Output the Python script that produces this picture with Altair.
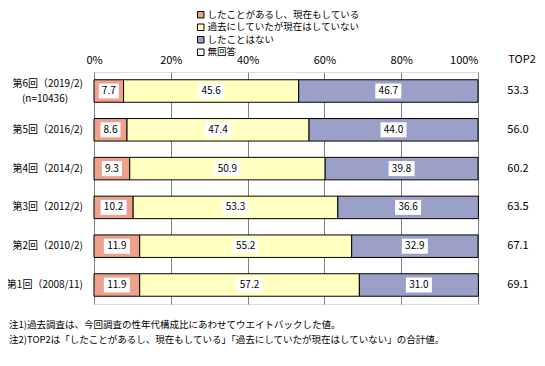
import altair as alt
import pandas as pd

rounds = ["第6回（2019/2)", "第5回（2016/2)", "第4回（2014/2)", "第3回（2012/2)", "第2回（2010/2)", "第1回（2008/11)"]
sample_note = "(n=10436)"
categories = ["したことがあるし、現在もしている", "過去にしていたが現在はしていない", "したことはない", "無回答"]
colors = ["#EDA18B", "#FFFFC0", "#9AA0C7", "#FFFFFF"]
doing_now = [7.7, 8.6, 9.3, 10.2, 11.9, 11.9]
past = [45.6, 47.4, 50.9, 53.3, 55.2, 57.2]
never = [46.7, 44.0, 39.8, 36.6, 32.9, 31.0]
top2 = [53.3, 56.0, 60.2, 63.5, 67.1, 69.1]
notes = [
    "注1)過去調査は、今回調査の性年代構成比にあわせてウエイトバックした値。",
    "注2)TOP2は「したことがあるし、現在もしている」「過去にしていたが現在はしていない」の合計値。",
]

FONT = "Noto Sans CJK JP"

rows = []
for i, r in enumerate(rounds):
    for ci, vals in enumerate([doing_now, past, never]):
        rows.append({"round": r, "cat": categories[ci], "ci": ci, "value": vals[i]})
df = pd.DataFrame(rows)
lab_df = pd.DataFrame({"round": rounds, "top2": top2})

y_enc = alt.Y("round:N", sort=rounds, axis=None,
              scale=alt.Scale(paddingInner=0.42, paddingOuter=0.2))

base = alt.Chart(df).transform_stack(
    stack="value", groupby=["round"], as_=["x0", "x1"], sort=[alt.SortField("ci")]
).transform_calculate(
    mid="(datum.x0 + datum.x1) / 2",
    label="format(datum.value, '.1f')",
).transform_calculate(
    bx0="datum.mid - (length(datum.label) * 6 + 2) / 2 / 3.84",
    bx1="datum.mid + (length(datum.label) * 6 + 2) / 2 / 3.84",
)

x_enc = alt.X("x0:Q", scale=alt.Scale(domain=[0, 100], nice=False),
              axis=alt.Axis(orient="top", values=[0, 20, 40, 60, 80, 100],
                            labelExpr="datum.value + '%'", title=None, ticks=False,
                            domain=False, grid=True, gridColor="#808080", gridWidth=1,
                            labelFontSize=11, labelPadding=7, labelColor="black",
                            labelFont=FONT,
                            labelAlign=alt.ExprRef(expr="datum.value == 100 ? 'right' : 'center'"),
                            labelBound=False, labelFlush=False, labelOverlap=False))

bars = base.mark_bar(stroke="black", strokeWidth=1).encode(
    x=x_enc, x2="x1:Q", y=y_enc,
    color=alt.Color("cat:N", scale=alt.Scale(domain=categories, range=colors),
                    legend=alt.Legend(orient="none", legendX=102, legendY=-62, title=None,
                                      symbolType="square", symbolSize=42,
                                      symbolStrokeColor="black", symbolStrokeWidth=1,
                                      labelFontSize=9.5, labelFont=FONT, labelColor="black",
                                      rowPadding=1.5, labelOffset=2, padding=0,
                                      labelLimit=300, symbolFillColor="white")),
)

boxes = base.mark_bar(color="white", height=15).encode(
    x="bx0:Q", x2="bx1:Q", y=y_enc,
)

texts = base.mark_text(fontSize=10, font=FONT, color="black").encode(
    x="mid:Q", y=y_enc, text="label:N",
)

ylab = alt.Chart(lab_df).transform_filter(
    alt.datum.round != rounds[0]
).mark_text(align="right", fontSize=10, font=FONT, color="black").encode(
    x=alt.value(-11), y=y_enc, text="round:N"
)
ylab_first = alt.Chart(lab_df).transform_filter(
    alt.datum.round == rounds[0]
).mark_text(align="right", fontSize=10, font=FONT, color="black", dy=-7).encode(
    x=alt.value(-11), y=y_enc, text="round:N"
)
ylab_n = alt.Chart(lab_df).transform_filter(
    alt.datum.round == rounds[0]
).transform_calculate(n=f"'{sample_note}'").mark_text(
    align="center", fontSize=10, font=FONT, color="black", dy=8
).encode(x=alt.value(-49), y=y_enc, text="n:N")

top2_txt = alt.Chart(lab_df).mark_text(fontSize=11, font=FONT, color="black").encode(
    x=alt.value(424), y=alt.Y("round:N", sort=rounds, axis=None), text=alt.Text("top2:Q", format=".1f")
)
top2_head = alt.Chart(pd.DataFrame({"t": ["TOP2"]})).mark_text(
    fontSize=11, font=FONT, color="black"
).encode(x=alt.value(428), y=alt.value(-12), text="t:N")

note_txt = alt.Chart(pd.DataFrame({"t": ["\n".join(notes)]})).mark_text(
    align="left", baseline="top", fontSize=9.5, font=FONT, color="black",
    lineBreak="\n", lineHeight=15
).encode(x=alt.value(-85), y=alt.value(248), text="t:N")

chart = alt.layer(
    bars, boxes, texts, ylab, ylab_first, ylab_n, top2_txt, top2_head, note_txt
).properties(
    width=384, height=232,
    autosize=alt.AutoSizeParams(type="none"),
    padding={"left": 86, "top": 64, "right": 59, "bottom": 54},
).configure_view(stroke="black", strokeWidth=1).configure(font=FONT)

chart.save("out.html", embed_options={"renderer": "svg", "actions": False})
